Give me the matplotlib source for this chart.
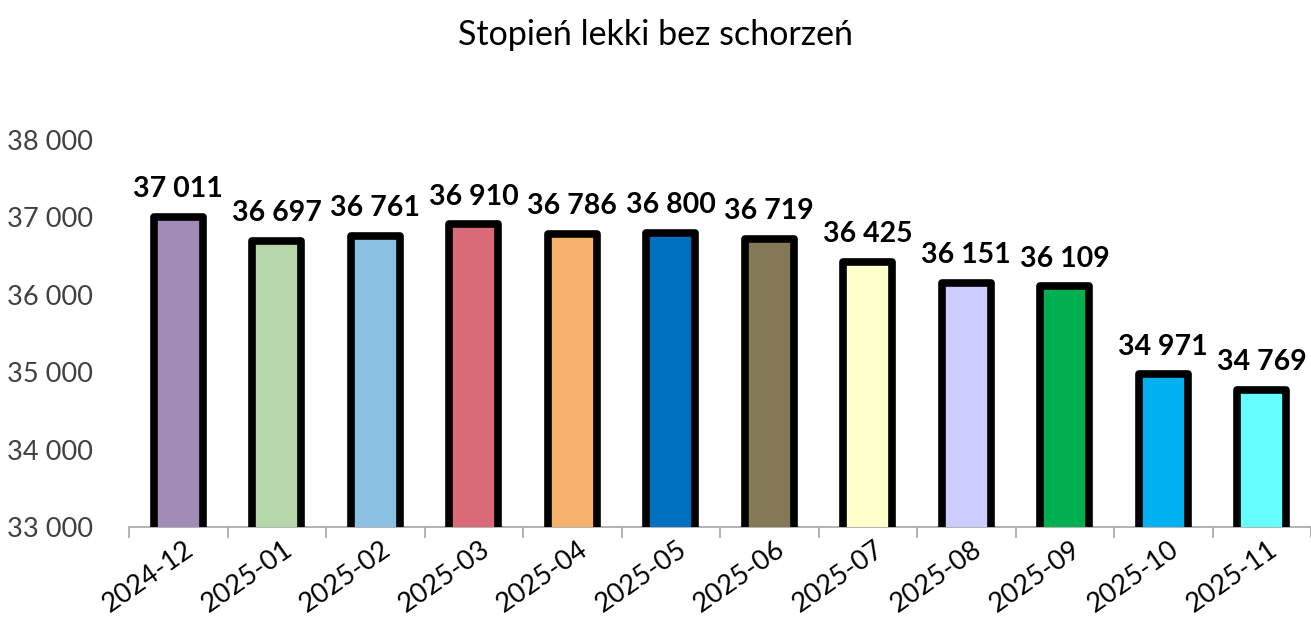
import numpy as np
import matplotlib.pyplot as plt
from matplotlib.ticker import FuncFormatter

plt.rcParams['font.family'] = ['Lato', 'DejaVu Sans']

miesiace = ['2024-12', '2025-01', '2025-02', '2025-03', '2025-04', '2025-05',
            '2025-06', '2025-07', '2025-08', '2025-09', '2025-10', '2025-11']
wartosci = [37011, 36697, 36761, 36910, 36786, 36800,
            36719, 36425, 36151, 36109, 34971, 34769]
kolory = ['#A18BB7', '#B5D6A8', '#8AC1E3', '#D96B78', '#F6B26B', '#0070C0',
          '#857856', '#FFFFCC', '#CCCCFF', '#00B050', '#00B0F0', '#66FFFF']

def fmt(v, pos=None):
    return '{:,}'.format(int(v)).replace(',', ' ')

fig = plt.figure(figsize=(13.11, 6.19), dpi=100)
ax = fig.add_axes([129/1311, 92/619, 1 - 129/1311, (527-140)/619])

x = np.arange(len(miesiace))
bars = ax.bar(x, wartosci, width=0.5, color=kolory, edgecolor='black',
              linewidth=5.5, joinstyle='round', zorder=3)

for xi, v in zip(x, wartosci):
    ax.text(xi, v + 190, fmt(v), ha='center', va='bottom', fontsize=20.5,
            fontweight='bold', color='black')

ax.set_ylim(33000, 38000)
ax.set_xlim(-0.5, len(miesiace) - 0.5)
ax.set_yticks(np.arange(33000, 38001, 1000))
ax.yaxis.set_major_formatter(FuncFormatter(fmt))
ax.tick_params(axis='y', length=0, labelsize=19.5, labelcolor='#404040', pad=26)

ax.set_xticks(x + 0.06)
ax.set_xticklabels(miesiace, rotation=35, ha='right', va='top',
                   rotation_mode='anchor', fontsize=19.5, color='black')
ax.set_xticks(np.arange(-0.5, len(miesiace), 1), minor=True)
ax.tick_params(axis='x', which='major', length=0, pad=7)
ax.tick_params(axis='x', which='minor', length=8, width=1.2, color='#A6A6A6')

for s in ['top', 'right', 'left']:
    ax.spines[s].set_visible(False)
ax.spines['bottom'].set_color('#A6A6A6')
ax.spines['bottom'].set_linewidth(1.2)

fig.text(0.5, 1 - 35/619, 'Stopień lekki bez schorzeń', ha='center', va='center',
         fontsize=24.5, color='black')

fig.savefig('out.png', dpi=100)
